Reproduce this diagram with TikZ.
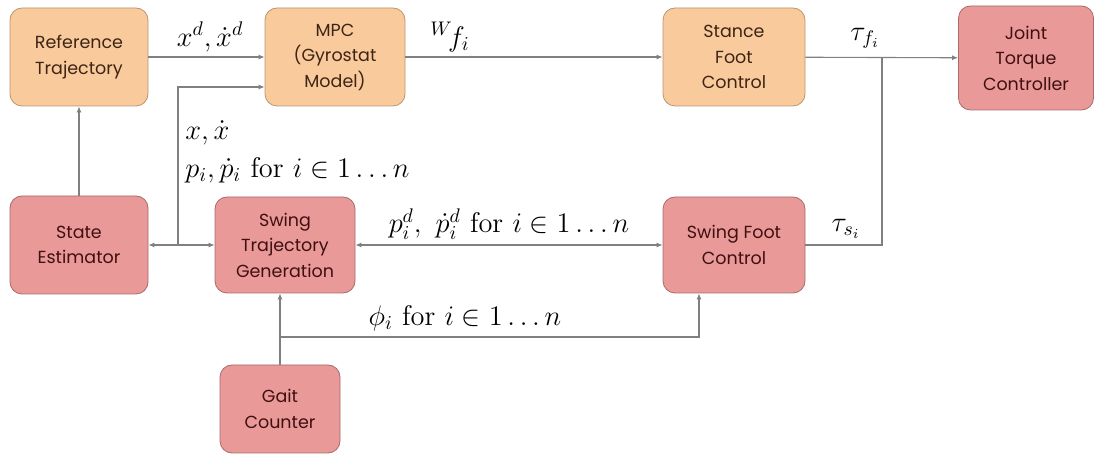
\documentclass[tikz,border=0pt]{standalone}
\usepackage{fontspec}
\newfontfamily\caratterebox{Poppins}
\usetikzlibrary{arrows.meta}

\definecolor{arancioF}{HTML}{F9CB9C}
\definecolor{arancioB}{HTML}{B89470}
\definecolor{arancioT}{HTML}{3E2416}
\definecolor{rossoF}{HTML}{EA9999}
\definecolor{rossoB}{HTML}{A86A6A}
\definecolor{rossoT}{HTML}{401010}
\definecolor{linea}{HTML}{808080}

\begin{document}
\begin{tikzpicture}[
    x=1pt,y=1pt,
    blocco/.style={draw,line width=0.8pt,rounded corners=12pt,align=center,
      inner sep=0pt,font=\caratterebox\fontsize{17.5}{25.5}\selectfont},
    arancio/.style={blocco,fill=arancioF,draw=arancioB,text=arancioT},
    rosso/.style={blocco,fill=rossoF,draw=rossoB,text=rossoT},
    filo/.style={draw=linea,line width=1.1pt},
    freccia/.style={filo,-{Latex[length=6pt,width=5pt]}},
    doppia/.style={filo,{Latex[length=6pt,width=5pt]}-{Latex[length=6pt,width=5pt]}},
    etichetta/.style={font=\Large,inner sep=0pt,scale=1.97,transform shape}]

  \useasboundingbox (0,0) rectangle (1095,455);

  % ---- riga alta: riferimento, MPC, piedi in appoggio, coppie -------------
  \node[arancio,minimum width=138pt,minimum height=98pt] (rif) at (79,398)
    {Reference\\Trajectory};
  \node[arancio,minimum width=140pt,minimum height=98pt] (mpc) at (335,398)
    {MPC\\(Gyrostat\\Model)};
  \node[arancio,minimum width=142pt,minimum height=98pt] (stance) at (734,398)
    {Stance\\Foot\\Control};
  \node[rosso,minimum width=135pt,minimum height=104pt] (joint) at (1026,397)
    {Joint\\Torque\\Controller};

  % ---- riga bassa: stima, traiettoria swing, piede swing, contatore -------
  \node[rosso,minimum width=138pt,minimum height=98pt] (stato) at (79,210)
    {State\\Estimator};
  \node[rosso,minimum width=140pt,minimum height=96pt] (swingtraj) at (285,210)
    {Swing\\Trajectory\\Generation};
  \node[rosso,minimum width=142pt,minimum height=96pt] (swingfoot) at (734,210)
    {Swing Foot\\Control};
  \node[rosso,minimum width=120pt,minimum height=88pt] (gait) at (280,46)
    {Gait\\Counter};

  \coordinate (giunto) at (178,210);
  \coordinate (bivio) at (882,398);
  \coordinate (ramo) at (280,118);

  % ---- collegamenti ---------------------------------------------------------
  \draw[freccia] (rif) -- (mpc);
  \draw[freccia] (giunto) |- ([yshift=-30pt]mpc.west);
  \draw[freccia] (giunto) -- (stato);
  \draw[freccia] (giunto) -- (swingtraj);
  \draw[freccia] (stato) -- (rif);
  \draw[freccia] (mpc) -- (stance);
  \draw[freccia] (stance) -- (joint);
  \draw[filo] (swingfoot) -| (bivio);
  \draw[doppia] (swingtraj) -- (swingfoot);
  \draw[freccia] (gait) -- (gait |- swingtraj.south);
  \draw[freccia] (ramo) -| ([xshift=-35pt]swingfoot.south);

  % ---- etichette ------------------------------------------------------------
  \node[etichetta] (xd) at (210,418) {$x^d,\dot x^d$};
  \node[etichetta] (wf) at (450,418) {${}^W\! f_i$};
  \node[etichetta] (tauf) at (865,417) {$\tau_{f_i}$};
  \node[etichetta] (taus) at (846,226) {$\tau_{s_i}$};
  \node[etichetta,anchor=west] (xstato) at (185,322) {$x,\dot x$};
  \node[etichetta,anchor=west] (pstato) at (185,285)
    {$p_i,\dot p_i\ \mathrm{for}\ i\in 1\dots n$};
  \node[etichetta] (pd) at (509,231)
    {$p_i^d,\ \dot p_i^d\ \mathrm{for}\ i\in 1\dots n$};
  \node[etichetta] (fasi) at (465,137) {$\phi_i\ \mathrm{for}\ i\in 1\dots n$};

\end{tikzpicture}
\end{document}
